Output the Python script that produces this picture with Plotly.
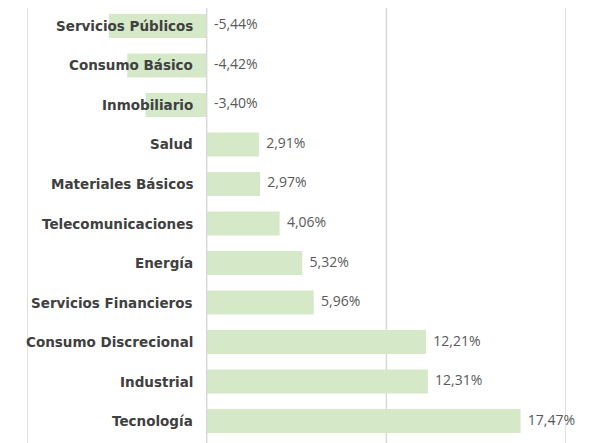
import plotly.graph_objects as go

categories = ["Servicios Públicos", "Consumo Básico", "Inmobiliario", "Salud",
              "Materiales Básicos", "Telecomunicaciones", "Energía",
              "Servicios Financieros", "Consumo Discrecional", "Industrial", "Tecnología"]
values = [-5.44, -4.42, -3.40, 2.91, 2.97, 4.06, 5.32, 5.96, 12.21, 12.31, 17.47]
x_ticks = [-10, 0, 10, 20]

labels = [f"{v:.2f}".replace(".", ",") + "%" for v in values]
label_x = [max(v, 0) for v in values]

fig = go.Figure()
for t in x_ticks:
    fig.add_shape(type="line", xref="x", yref="paper", x0=t, x1=t, y0=0, y1=0.991,
                  line=dict(color="#d9d9d9", width=1.5), layer="above" if t == 0 else "below")
fig.add_trace(go.Bar(
    x=values, y=categories, orientation="h",
    marker=dict(color="#d5e8c8", line=dict(width=0)),
    width=0.61, hoverinfo="skip",
))
fig.add_trace(go.Scatter(
    x=label_x, y=categories, mode="text",
    text=["  " + t for t in labels],
    textposition="middle right",
    textfont=dict(family="'Open Sans', sans-serif", size=14, color="#595959"),
    cliponaxis=False, hoverinfo="skip",
))
for c in categories:
    fig.add_annotation(
        x=0, y=c, xref="x", yref="y", text=f"<b>{c}</b>", showarrow=False,
        xanchor="right", xshift=-12,
        font=dict(family="'DejaVu Sans', sans-serif", size=13.5, color="#404040"),
    )

fig.update_layout(
    width=589, height=443,
    margin=dict(l=27, r=23, t=4, b=0),
    paper_bgcolor="white", plot_bgcolor="white",
    showlegend=False,
    xaxis=dict(range=[-10, 20], showticklabels=False, showgrid=False,
               zeroline=False, showline=False, fixedrange=True),
    yaxis=dict(categoryorder="array", categoryarray=categories, autorange="reversed",
               showticklabels=False, showgrid=False, zeroline=False, showline=False,
               fixedrange=True),
    bargap=0.37,
)
fig.write_html("out.html", config={"displayModeBar": False},
               post_script="document.body.style.margin='0';document.body.style.padding='0';")
